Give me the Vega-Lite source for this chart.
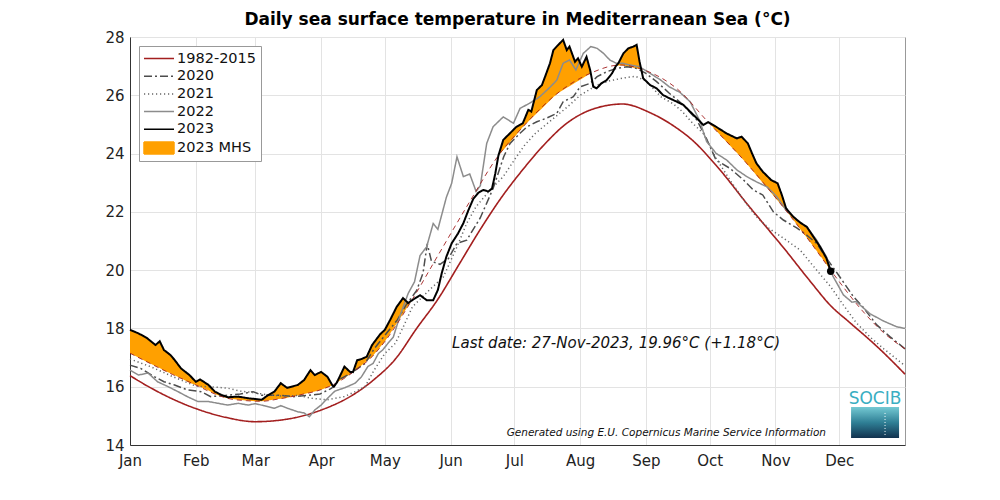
{
"$schema": "https://vega.github.io/schema/vega-lite/v6.json",
"width": 775, "height": 408,
"autosize": {"type": "none"},
"padding": {"left": 130, "top": 37, "right": 95, "bottom": 55},
"background": "white",
"title": {"text": "Daily sea surface temperature in Mediterranean Sea (°C)", "font": "DejaVu Sans", "fontSize": 17, "fontWeight": "bold", "color": "#000", "offset": 1, "anchor": "middle"},
"config": {
  "font": "DejaVu Sans",
  "view": {"stroke": "#999", "strokeWidth": 1},
  "axis": {"labelFont": "DejaVu Sans", "labelFontSize": 15, "labelColor": "#222", "grid": true, "gridColor": "#e3e3e3", "gridWidth": 1, "domainColor": "#333", "ticks": false, "title": null, "labelFlush": false},
  "legend": {"orient": "top-left", "offset": 9, "fillColor": "white", "strokeColor": "#999", "padding": 4, "labelFont": "DejaVu Sans", "labelFontSize": 14.5, "labelColor": "#111", "symbolSize": 225, "symbolStrokeWidth": 1.5, "symbolType": "M-1,0H3", "rowPadding": 2.7, "labelOffset": 17, "labelLimit": 200}
},
"datasets": {
  "clim": [
    {"series":"1982-2015","day":0,"t":16.38},{"series":"1982-2015","day":10,"t":15.95},{"series":"1982-2015","day":20,"t":15.58},{"series":"1982-2015","day":31,"t":15.25},{"series":"1982-2015","day":45,"t":14.95},{"series":"1982-2015","day":59,"t":14.8},{"series":"1982-2015","day":75,"t":14.9},{"series":"1982-2015","day":90,"t":15.2},{"series":"1982-2015","day":105,"t":15.72},{"series":"1982-2015","day":115,"t":16.25},{"series":"1982-2015","day":125,"t":16.95},{"series":"1982-2015","day":135,"t":18.0},{"series":"1982-2015","day":145,"t":19.0},{"series":"1982-2015","day":155,"t":20.2},{"series":"1982-2015","day":165,"t":21.4},{"series":"1982-2015","day":175,"t":22.5},{"series":"1982-2015","day":185,"t":23.45},{"series":"1982-2015","day":195,"t":24.3},{"series":"1982-2015","day":205,"t":25.0},{"series":"1982-2015","day":217,"t":25.5},{"series":"1982-2015","day":232,"t":25.7},{"series":"1982-2015","day":245,"t":25.4},{"series":"1982-2015","day":257,"t":24.9},{"series":"1982-2015","day":265,"t":24.45},{"series":"1982-2015","day":276,"t":23.6},{"series":"1982-2015","day":292,"t":22.15},{"series":"1982-2015","day":300,"t":21.45},{"series":"1982-2015","day":308,"t":20.75},{"series":"1982-2015","day":320,"t":19.65},{"series":"1982-2015","day":330,"t":18.78},{"series":"1982-2015","day":339,"t":18.2},{"series":"1982-2015","day":350,"t":17.5},{"series":"1982-2015","day":355,"t":17.16},{"series":"1982-2015","day":360,"t":16.8},{"series":"1982-2015","day":365,"t":16.43}
  ],
  "thr": [
    {"day":0,"t":17.15},{"day":10,"t":16.78},{"day":20,"t":16.42},{"day":31,"t":16.06},{"day":40,"t":15.75},{"day":46,"t":15.6},{"day":55,"t":15.52},{"day":62,"t":15.5},{"day":70,"t":15.58},{"day":80,"t":15.72},{"day":90,"t":15.9},{"day":96,"t":16.08},{"day":106,"t":16.55},{"day":114,"t":17.03},{"day":120,"t":17.55},{"day":133,"t":19.0},{"day":145,"t":20.5},{"day":160,"t":22.35},{"day":173,"t":23.88},{"day":185,"t":24.91},{"day":201,"t":26.05},{"day":217,"t":26.76},{"day":231,"t":27.04},{"day":242,"t":26.87},{"day":258,"t":26.2},{"day":272,"t":25.1},{"day":290,"t":23.7},{"day":308,"t":22.13},{"day":320,"t":21.0},{"day":331,"t":19.9},{"day":345,"t":18.6},{"day":355,"t":17.85},{"day":365,"t":17.3}
  ],
  "years": [
    {"series":"2020","day":0,"t":16.74},{"series":"2020","day":5,"t":16.63},{"series":"2020","day":11.6,"t":16.34},{"series":"2020","day":16,"t":16.17},{"series":"2020","day":21,"t":16.06},{"series":"2020","day":27,"t":15.89},{"series":"2020","day":33.6,"t":15.83},{"series":"2020","day":38,"t":15.66},{"series":"2020","day":45,"t":15.7},{"series":"2020","day":52,"t":15.75},{"series":"2020","day":58,"t":15.83},{"series":"2020","day":62,"t":15.71},{"series":"2020","day":70,"t":15.71},{"series":"2020","day":77,"t":15.66},{"series":"2020","day":83,"t":15.7},{"series":"2020","day":89.5,"t":15.75},{"series":"2020","day":95,"t":15.95},{"series":"2020","day":98,"t":16.23},{"series":"2020","day":104,"t":16.46},{"series":"2020","day":110.7,"t":16.8},{"series":"2020","day":115,"t":17.3},{"series":"2020","day":121,"t":17.85},{"series":"2020","day":126,"t":18.3},{"series":"2020","day":130,"t":18.8},{"series":"2020","day":135,"t":19.3},{"series":"2020","day":138,"t":19.9},{"series":"2020","day":140,"t":20.9},{"series":"2020","day":142,"t":20.3},{"series":"2020","day":146,"t":20.2},{"series":"2020","day":150,"t":20.4},{"series":"2020","day":154,"t":20.92},{"series":"2020","day":158.6,"t":21.03},{"series":"2020","day":165,"t":21.8},{"series":"2020","day":171,"t":22.8},{"series":"2020","day":176,"t":23.89},{"series":"2020","day":179,"t":24.35},{"series":"2020","day":183.7,"t":24.7},{"series":"2020","day":187,"t":24.92},{"series":"2020","day":191.6,"t":25.09},{"series":"2020","day":196,"t":25.21},{"series":"2020","day":201,"t":25.38},{"series":"2020","day":204,"t":25.78},{"series":"2020","day":208.8,"t":25.95},{"series":"2020","day":212,"t":26.29},{"series":"2020","day":216.7,"t":26.41},{"series":"2020","day":220,"t":26.64},{"series":"2020","day":224.6,"t":26.81},{"series":"2020","day":229,"t":26.92},{"series":"2020","day":234,"t":26.98},{"series":"2020","day":238.7,"t":26.92},{"series":"2020","day":243,"t":26.75},{"series":"2020","day":248,"t":26.47},{"series":"2020","day":254,"t":26.07},{"series":"2020","day":260.6,"t":25.67},{"series":"2020","day":267,"t":25.15},{"series":"2020","day":271.6,"t":24.5},{"series":"2020","day":276,"t":23.78},{"series":"2020","day":282.6,"t":23.49},{"series":"2020","day":289,"t":23.09},{"series":"2020","day":293.6,"t":22.75},{"series":"2020","day":298,"t":22.58},{"series":"2020","day":303,"t":22.0},{"series":"2020","day":307.7,"t":21.72},{"series":"2020","day":314,"t":21.45},{"series":"2020","day":318.7,"t":21.2},{"series":"2020","day":323.4,"t":20.92},{"series":"2020","day":328,"t":20.41},{"series":"2020","day":334,"t":19.8},{"series":"2020","day":340.7,"t":19.09},{"series":"2020","day":345,"t":18.75},{"series":"2020","day":351.7,"t":18.12},{"series":"2020","day":358,"t":17.71},{"series":"2020","day":365,"t":17.3},
    {"series":"2021","day":0,"t":16.95},{"series":"2021","day":10,"t":16.68},{"series":"2021","day":20,"t":16.35},{"series":"2021","day":31,"t":16.02},{"series":"2021","day":41,"t":15.98},{"series":"2021","day":46,"t":15.95},{"series":"2021","day":52,"t":15.85},{"series":"2021","day":58,"t":15.8},{"series":"2021","day":65,"t":15.72},{"series":"2021","day":72,"t":15.68},{"series":"2021","day":79,"t":15.7},{"series":"2021","day":86,"t":15.6},{"series":"2021","day":93,"t":15.55},{"series":"2021","day":101,"t":15.66},{"series":"2021","day":106,"t":15.83},{"series":"2021","day":110.7,"t":16.0},{"series":"2021","day":115,"t":16.57},{"series":"2021","day":120,"t":17.14},{"series":"2021","day":125,"t":17.49},{"series":"2021","day":129,"t":18.1},{"series":"2021","day":133,"t":18.74},{"series":"2021","day":141,"t":19.32},{"series":"2021","day":147.6,"t":19.77},{"series":"2021","day":154,"t":20.8},{"series":"2021","day":158.6,"t":21.61},{"series":"2021","day":163,"t":22.18},{"series":"2021","day":169.6,"t":22.75},{"series":"2021","day":175.8,"t":23.21},{"series":"2021","day":182,"t":23.89},{"series":"2021","day":186,"t":24.3},{"series":"2021","day":191,"t":24.7},{"series":"2021","day":196,"t":25.0},{"series":"2021","day":201,"t":25.3},{"series":"2021","day":206,"t":25.6},{"series":"2021","day":212,"t":26.0},{"series":"2021","day":220,"t":26.35},{"series":"2021","day":226,"t":26.5},{"series":"2021","day":233,"t":26.6},{"series":"2021","day":238,"t":26.65},{"series":"2021","day":243,"t":26.5},{"series":"2021","day":250,"t":25.95},{"series":"2021","day":256,"t":25.7},{"series":"2021","day":260,"t":25.45},{"series":"2021","day":265,"t":25.04},{"series":"2021","day":270,"t":24.69},{"series":"2021","day":276,"t":23.84},{"series":"2021","day":282.6,"t":23.09},{"series":"2021","day":289,"t":22.41},{"series":"2021","day":295,"t":21.83},{"series":"2021","day":301,"t":21.43},{"series":"2021","day":307.7,"t":21.1},{"series":"2021","day":315.6,"t":20.69},{"series":"2021","day":323.4,"t":20.0},{"series":"2021","day":330,"t":19.43},{"series":"2021","day":336,"t":18.8},{"series":"2021","day":342,"t":18.2},{"series":"2021","day":348.6,"t":17.7},{"series":"2021","day":355,"t":17.3},{"series":"2021","day":361,"t":16.95},{"series":"2021","day":365,"t":16.72},
    {"series":"2022","day":0,"t":16.57},{"series":"2022","day":4,"t":16.4},{"series":"2022","day":8.5,"t":16.47},{"series":"2022","day":13,"t":16.17},{"series":"2022","day":18,"t":16.0},{"series":"2022","day":22.6,"t":15.83},{"series":"2022","day":27,"t":15.66},{"series":"2022","day":32,"t":15.49},{"series":"2022","day":37,"t":15.49},{"series":"2022","day":41.5,"t":15.43},{"series":"2022","day":46,"t":15.37},{"series":"2022","day":51,"t":15.43},{"series":"2022","day":55.6,"t":15.37},{"series":"2022","day":59,"t":15.42},{"series":"2022","day":63,"t":15.35},{"series":"2022","day":68,"t":15.26},{"series":"2022","day":71,"t":15.35},{"series":"2022","day":74.6,"t":15.25},{"series":"2022","day":79,"t":15.14},{"series":"2022","day":82,"t":15.1},{"series":"2022","day":84.5,"t":14.97},{"series":"2022","day":87,"t":15.2},{"series":"2022","day":90,"t":15.37},{"series":"2022","day":93,"t":15.6},{"series":"2022","day":96.5,"t":15.85},{"series":"2022","day":101,"t":15.96},{"series":"2022","day":106,"t":16.12},{"series":"2022","day":109,"t":16.34},{"series":"2022","day":112,"t":16.69},{"series":"2022","day":114.5,"t":16.8},{"series":"2022","day":117,"t":17.14},{"series":"2022","day":119,"t":17.26},{"series":"2022","day":121.5,"t":17.49},{"series":"2022","day":124,"t":17.7},{"series":"2022","day":127,"t":18.4},{"series":"2022","day":131,"t":19.2},{"series":"2022","day":134,"t":19.6},{"series":"2022","day":136.6,"t":20.5},{"series":"2022","day":139.7,"t":20.8},{"series":"2022","day":142.8,"t":21.6},{"series":"2022","day":145,"t":21.4},{"series":"2022","day":149,"t":22.5},{"series":"2022","day":151.5,"t":22.98},{"series":"2022","day":154,"t":23.89},{"series":"2022","day":157,"t":23.21},{"series":"2022","day":160,"t":23.3},{"series":"2022","day":163,"t":22.7},{"series":"2022","day":165,"t":22.9},{"series":"2022","day":168,"t":24.35},{"series":"2022","day":171,"t":24.92},{"series":"2022","day":175.8,"t":25.26},{"series":"2022","day":180.6,"t":25.04},{"series":"2022","day":183.7,"t":25.55},{"series":"2022","day":188,"t":25.72},{"series":"2022","day":193,"t":25.95},{"series":"2022","day":198,"t":26.29},{"series":"2022","day":201,"t":26.52},{"series":"2022","day":204,"t":27.1},{"series":"2022","day":207,"t":27.21},{"series":"2022","day":210,"t":26.87},{"series":"2022","day":213.5,"t":27.44},{"series":"2022","day":217,"t":27.67},{"series":"2022","day":220,"t":27.61},{"series":"2022","day":223,"t":27.44},{"series":"2022","day":226,"t":27.21},{"series":"2022","day":229,"t":27.1},{"series":"2022","day":232,"t":27.1},{"series":"2022","day":235.5,"t":27.04},{"series":"2022","day":240,"t":26.98},{"series":"2022","day":245,"t":26.75},{"series":"2022","day":250,"t":26.52},{"series":"2022","day":254,"t":26.29},{"series":"2022","day":259,"t":26.1},{"series":"2022","day":263.8,"t":25.78},{"series":"2022","day":268.5,"t":25.1},{"series":"2022","day":270,"t":24.75},{"series":"2022","day":271.6,"t":24.41},{"series":"2022","day":276,"t":24.01},{"series":"2022","day":281,"t":23.78},{"series":"2022","day":285.8,"t":23.44},{"series":"2022","day":290.5,"t":23.21},{"series":"2022","day":295,"t":23.03},{"series":"2022","day":300,"t":22.86},{"series":"2022","day":304.6,"t":22.52},{"series":"2022","day":309,"t":22.06},{"series":"2022","day":314,"t":21.72},{"series":"2022","day":318.7,"t":21.49},{"series":"2022","day":323.4,"t":21.03},{"series":"2022","day":328,"t":20.46},{"series":"2022","day":331,"t":19.8},{"series":"2022","day":336,"t":19.15},{"series":"2022","day":340,"t":18.9},{"series":"2022","day":342,"t":18.92},{"series":"2022","day":348.6,"t":18.5},{"series":"2022","day":355,"t":18.25},{"series":"2022","day":361,"t":18.06},{"series":"2022","day":365,"t":18.0}
  ],
  "y2023": [
    {"series":"2023","day":0,"t":17.95},{"series":"2023","day":4,"t":17.83},{"series":"2023","day":8,"t":17.67},{"series":"2023","day":12,"t":17.43},{"series":"2023","day":14,"t":17.56},{"series":"2023","day":16,"t":17.26},{"series":"2023","day":19,"t":17.09},{"series":"2023","day":21,"t":16.92},{"series":"2023","day":24,"t":16.63},{"series":"2023","day":28,"t":16.4},{"series":"2023","day":31,"t":16.17},{"series":"2023","day":33,"t":16.25},{"series":"2023","day":37,"t":16.06},{"series":"2023","day":40,"t":15.83},{"series":"2023","day":43,"t":15.72},{"series":"2023","day":46,"t":15.64},{"series":"2023","day":51,"t":15.66},{"series":"2023","day":56,"t":15.6},{"series":"2023","day":59,"t":15.58},{"series":"2023","day":62,"t":15.55},{"series":"2023","day":65,"t":15.71},{"series":"2023","day":68,"t":15.83},{"series":"2023","day":71,"t":16.12},{"series":"2023","day":74,"t":15.96},{"series":"2023","day":79,"t":16.06},{"series":"2023","day":82,"t":16.23},{"series":"2023","day":85,"t":16.57},{"series":"2023","day":87,"t":16.4},{"series":"2023","day":90,"t":16.51},{"series":"2023","day":93,"t":16.34},{"series":"2023","day":95.3,"t":16.05},{"series":"2023","day":96,"t":16.0},{"series":"2023","day":97.5,"t":16.15},{"series":"2023","day":98,"t":16.23},{"series":"2023","day":101,"t":16.69},{"series":"2023","day":103.6,"t":16.51},{"series":"2023","day":105,"t":16.5},{"series":"2023","day":107,"t":16.91},{"series":"2023","day":109,"t":16.95},{"series":"2023","day":111.5,"t":17.03},{"series":"2023","day":114,"t":17.43},{"series":"2023","day":117.8,"t":17.8},{"series":"2023","day":120,"t":17.95},{"series":"2023","day":122.5,"t":18.29},{"series":"2023","day":125.6,"t":18.74},{"series":"2023","day":128.6,"t":19.04},{"series":"2023","day":131,"t":18.87},{"series":"2023","day":132.5,"t":18.95},{"series":"2023","day":136.6,"t":19.14},{"series":"2023","day":139.7,"t":18.97},{"series":"2023","day":142.8,"t":18.97},{"series":"2023","day":145,"t":19.32},{"series":"2023","day":146.8,"t":19.89},{"series":"2023","day":149,"t":20.46},{"series":"2023","day":151.5,"t":20.92},{"series":"2023","day":154.5,"t":21.26},{"series":"2023","day":157,"t":21.61},{"series":"2023","day":159.4,"t":22.06},{"series":"2023","day":161.7,"t":22.45},{"series":"2023","day":164,"t":22.65},{"series":"2023","day":166.4,"t":22.75},{"series":"2023","day":168.8,"t":22.7},{"series":"2023","day":170.5,"t":22.8},{"series":"2023","day":172,"t":23.3},{"series":"2023","day":173.5,"t":23.93},{"series":"2023","day":175.8,"t":24.47},{"series":"2023","day":179,"t":24.7},{"series":"2023","day":182,"t":24.92},{"series":"2023","day":185,"t":25.04},{"series":"2023","day":187.6,"t":25.5},{"series":"2023","day":189,"t":25.44},{"series":"2023","day":191.6,"t":26.18},{"series":"2023","day":194,"t":26.35},{"series":"2023","day":195.5,"t":26.64},{"series":"2023","day":197.8,"t":27.1},{"series":"2023","day":199.4,"t":27.55},{"series":"2023","day":201.7,"t":27.73},{"series":"2023","day":204,"t":27.9},{"series":"2023","day":205.7,"t":27.55},{"series":"2023","day":207,"t":27.67},{"series":"2023","day":209.6,"t":27.15},{"series":"2023","day":211,"t":27.27},{"series":"2023","day":212.8,"t":26.98},{"series":"2023","day":215,"t":27.32},{"series":"2023","day":216.7,"t":26.87},{"series":"2023","day":217,"t":26.76},{"series":"2023","day":218.2,"t":26.29},{"series":"2023","day":219.8,"t":26.24},{"series":"2023","day":222,"t":26.41},{"series":"2023","day":224.5,"t":26.52},{"series":"2023","day":227,"t":26.75},{"series":"2023","day":228.8,"t":27.0},{"series":"2023","day":230,"t":27.1},{"series":"2023","day":232.4,"t":27.44},{"series":"2023","day":234.7,"t":27.61},{"series":"2023","day":237,"t":27.67},{"series":"2023","day":238.6,"t":27.73},{"series":"2023","day":240,"t":27.15},{"series":"2023","day":240.8,"t":26.88},{"series":"2023","day":241.7,"t":26.58},{"series":"2023","day":245,"t":26.35},{"series":"2023","day":248,"t":26.24},{"series":"2023","day":251,"t":26.01},{"series":"2023","day":254,"t":25.9},{"series":"2023","day":257.5,"t":25.78},{"series":"2023","day":260.6,"t":25.67},{"series":"2023","day":263.8,"t":25.44},{"series":"2023","day":267,"t":25.21},{"series":"2023","day":270,"t":24.98},{"series":"2023","day":272.3,"t":25.08},{"series":"2023","day":276,"t":24.92},{"series":"2023","day":281,"t":24.69},{"series":"2023","day":285.8,"t":24.52},{"series":"2023","day":288,"t":24.58},{"series":"2023","day":291,"t":24.35},{"series":"2023","day":293,"t":24.0},{"series":"2023","day":295,"t":23.67},{"series":"2023","day":298,"t":23.38},{"series":"2023","day":302,"t":23.09},{"series":"2023","day":305,"t":22.98},{"series":"2023","day":307,"t":22.58},{"series":"2023","day":309,"t":22.12},{"series":"2023","day":312.4,"t":21.83},{"series":"2023","day":316,"t":21.61},{"series":"2023","day":318.7,"t":21.49},{"series":"2023","day":321.8,"t":21.15},{"series":"2023","day":325,"t":20.8},{"series":"2023","day":328,"t":20.41},{"series":"2023","day":330,"t":19.96}
  ],
  "mhs": [
    {"series":"2023 MHS","ev":1,"day":0,"hi":17.95,"lo":17.15},{"series":"2023 MHS","ev":1,"day":4,"hi":17.83,"lo":17.0},{"series":"2023 MHS","ev":1,"day":8,"hi":17.67,"lo":16.85},{"series":"2023 MHS","ev":1,"day":12,"hi":17.43,"lo":16.71},{"series":"2023 MHS","ev":1,"day":14,"hi":17.56,"lo":16.64},{"series":"2023 MHS","ev":1,"day":16,"hi":17.26,"lo":16.56},{"series":"2023 MHS","ev":1,"day":19,"hi":17.09,"lo":16.46},{"series":"2023 MHS","ev":1,"day":21,"hi":16.92,"lo":16.39},{"series":"2023 MHS","ev":1,"day":24,"hi":16.63,"lo":16.29},{"series":"2023 MHS","ev":1,"day":28,"hi":16.4,"lo":16.14},{"series":"2023 MHS","ev":1,"day":31,"hi":16.17,"lo":16.06},{"series":"2023 MHS","ev":1,"day":33,"hi":16.25,"lo":16.0},{"series":"2023 MHS","ev":1,"day":37,"hi":16.06,"lo":15.87},{"series":"2023 MHS","ev":1,"day":40,"hi":15.83,"lo":15.75},{"series":"2023 MHS","ev":1,"day":43,"hi":15.72,"lo":15.66},{"series":"2023 MHS","ev":1,"day":46,"hi":15.64,"lo":15.6},{"series":"2023 MHS","ev":1,"day":51,"hi":15.66,"lo":15.55},{"series":"2023 MHS","ev":1,"day":56,"hi":15.6,"lo":15.52},{"series":"2023 MHS","ev":1,"day":59,"hi":15.58,"lo":15.5},{"series":"2023 MHS","ev":1,"day":62,"hi":15.55,"lo":15.5},{"series":"2023 MHS","ev":1,"day":65,"hi":15.71,"lo":15.53},{"series":"2023 MHS","ev":1,"day":68,"hi":15.83,"lo":15.56},{"series":"2023 MHS","ev":1,"day":71,"hi":16.12,"lo":15.59},{"series":"2023 MHS","ev":1,"day":74,"hi":15.96,"lo":15.62},{"series":"2023 MHS","ev":1,"day":79,"hi":16.06,"lo":15.7},{"series":"2023 MHS","ev":1,"day":82,"hi":16.23,"lo":15.75},{"series":"2023 MHS","ev":1,"day":85,"hi":16.57,"lo":15.8},{"series":"2023 MHS","ev":1,"day":87,"hi":16.4,"lo":15.84},{"series":"2023 MHS","ev":1,"day":90,"hi":16.51,"lo":15.9},{"series":"2023 MHS","ev":1,"day":93,"hi":16.34,"lo":15.98},{"series":"2023 MHS","ev":1,"day":95.3,"hi":16.05,"lo":16.05},
    {"series":"2023 MHS","ev":2,"day":97.5,"hi":16.15,"lo":16.15},{"series":"2023 MHS","ev":2,"day":98,"hi":16.23,"lo":16.17},{"series":"2023 MHS","ev":2,"day":101,"hi":16.69,"lo":16.31},{"series":"2023 MHS","ev":2,"day":103.6,"hi":16.51,"lo":16.43},{"series":"2023 MHS","ev":2,"day":105,"hi":16.5,"lo":16.5},{"series":"2023 MHS","ev":2,"day":107,"hi":16.91,"lo":16.61},{"series":"2023 MHS","ev":2,"day":109,"hi":16.95,"lo":16.73},{"series":"2023 MHS","ev":2,"day":111.5,"hi":17.03,"lo":16.88},{"series":"2023 MHS","ev":2,"day":114,"hi":17.43,"lo":17.03},{"series":"2023 MHS","ev":2,"day":117.8,"hi":17.8,"lo":17.36},{"series":"2023 MHS","ev":2,"day":120,"hi":17.95,"lo":17.55},{"series":"2023 MHS","ev":2,"day":122.5,"hi":18.29,"lo":17.83},{"series":"2023 MHS","ev":2,"day":125.6,"hi":18.74,"lo":18.17},{"series":"2023 MHS","ev":2,"day":128.6,"hi":19.04,"lo":18.5},{"series":"2023 MHS","ev":2,"day":131,"hi":18.87,"lo":18.78},{"series":"2023 MHS","ev":2,"day":132.5,"hi":18.95,"lo":18.95},
    {"series":"2023 MHS","ev":3,"day":173.5,"hi":23.93,"lo":23.93},{"series":"2023 MHS","ev":3,"day":175.8,"hi":24.47,"lo":24.12},{"series":"2023 MHS","ev":3,"day":179,"hi":24.7,"lo":24.39},{"series":"2023 MHS","ev":3,"day":182,"hi":24.92,"lo":24.65},{"series":"2023 MHS","ev":3,"day":185,"hi":25.04,"lo":24.91},{"series":"2023 MHS","ev":3,"day":187.6,"hi":25.5,"lo":25.1},{"series":"2023 MHS","ev":3,"day":189,"hi":25.44,"lo":25.2},{"series":"2023 MHS","ev":3,"day":191.6,"hi":26.18,"lo":25.38},{"series":"2023 MHS","ev":3,"day":194,"hi":26.35,"lo":25.55},{"series":"2023 MHS","ev":3,"day":195.5,"hi":26.64,"lo":25.66},{"series":"2023 MHS","ev":3,"day":197.8,"hi":27.1,"lo":25.82},{"series":"2023 MHS","ev":3,"day":199.4,"hi":27.55,"lo":25.94},{"series":"2023 MHS","ev":3,"day":201.7,"hi":27.73,"lo":26.08},{"series":"2023 MHS","ev":3,"day":204,"hi":27.9,"lo":26.18},{"series":"2023 MHS","ev":3,"day":205.7,"hi":27.55,"lo":26.26},{"series":"2023 MHS","ev":3,"day":207,"hi":27.67,"lo":26.31},{"series":"2023 MHS","ev":3,"day":209.6,"hi":27.15,"lo":26.43},{"series":"2023 MHS","ev":3,"day":211,"hi":27.27,"lo":26.49},{"series":"2023 MHS","ev":3,"day":212.8,"hi":26.98,"lo":26.57},{"series":"2023 MHS","ev":3,"day":215,"hi":27.32,"lo":26.67},{"series":"2023 MHS","ev":3,"day":216.7,"hi":26.87,"lo":26.75},{"series":"2023 MHS","ev":3,"day":217,"hi":26.76,"lo":26.76},
    {"series":"2023 MHS","ev":4,"day":228.8,"hi":27.0,"lo":27.0},{"series":"2023 MHS","ev":4,"day":230,"hi":27.1,"lo":27.02},{"series":"2023 MHS","ev":4,"day":232.4,"hi":27.44,"lo":27.02},{"series":"2023 MHS","ev":4,"day":234.7,"hi":27.61,"lo":26.98},{"series":"2023 MHS","ev":4,"day":237,"hi":27.67,"lo":26.95},{"series":"2023 MHS","ev":4,"day":238.6,"hi":27.73,"lo":26.92},{"series":"2023 MHS","ev":4,"day":240,"hi":27.15,"lo":26.9},{"series":"2023 MHS","ev":4,"day":240.8,"hi":26.88,"lo":26.88},
    {"series":"2023 MHS","ev":5,"day":272.3,"hi":25.08,"lo":25.08},{"series":"2023 MHS","ev":5,"day":276,"hi":24.92,"lo":24.79},{"series":"2023 MHS","ev":5,"day":281,"hi":24.69,"lo":24.4},{"series":"2023 MHS","ev":5,"day":285.8,"hi":24.52,"lo":24.03},{"series":"2023 MHS","ev":5,"day":288,"hi":24.58,"lo":23.86},{"series":"2023 MHS","ev":5,"day":291,"hi":24.35,"lo":23.61},{"series":"2023 MHS","ev":5,"day":293,"hi":24.0,"lo":23.44},{"series":"2023 MHS","ev":5,"day":295,"hi":23.67,"lo":23.26},{"series":"2023 MHS","ev":5,"day":298,"hi":23.38,"lo":23.0},{"series":"2023 MHS","ev":5,"day":302,"hi":23.09,"lo":22.65},{"series":"2023 MHS","ev":5,"day":305,"hi":22.98,"lo":22.39},{"series":"2023 MHS","ev":5,"day":307,"hi":22.58,"lo":22.22},{"series":"2023 MHS","ev":5,"day":309,"hi":22.12,"lo":22.04},{"series":"2023 MHS","ev":5,"day":312.4,"hi":21.83,"lo":21.73},{"series":"2023 MHS","ev":5,"day":316,"hi":21.61,"lo":21.38},{"series":"2023 MHS","ev":5,"day":318.7,"hi":21.49,"lo":21.12},{"series":"2023 MHS","ev":5,"day":321.8,"hi":21.15,"lo":20.82},{"series":"2023 MHS","ev":5,"day":325,"hi":20.8,"lo":20.5},{"series":"2023 MHS","ev":5,"day":328,"hi":20.41,"lo":20.2},{"series":"2023 MHS","ev":5,"day":330,"hi":19.96,"lo":19.96}
  ],
  "last": [{"day":330,"t":19.96}]
},
"layer": [
  {
    "data": {"name": "mhs"},
    "mark": {"type": "area", "opacity": 1},
    "encoding": {
      "x": {"field": "day", "type": "quantitative", "scale": {"domain": [0, 365], "nice": false, "zero": false},
            "axis": {"values": [0,31,59,90,120,151,181,212,243,273,304,334], "labelExpr": "timeFormat(datetime(2023,0,1+datum.value),'%b')", "labelPadding": 8}},
      "y": {"field": "hi", "type": "quantitative", "scale": {"domain": [14, 28], "nice": false, "zero": false},
            "axis": {"values": [14,16,18,20,22,24,26,28], "labelPadding": 6}},
      "y2": {"field": "lo"},
      "detail": {"field": "ev"},
      "color": {"field": "series", "type": "nominal",
        "scale": {"domain": ["1982-2015","2020","2021","2022","2023","2023 MHS"], "range": ["#a31f1f","#4d4d4d","#666666","#8c8c8c","#000000","#ffa000"]},
        "legend": {"title": null, "symbolType": "M-1,0H3",
          "encode": {"symbols": {"update": {
            "shape": {"signal": "datum.value === '2023 MHS' ? 'M-1,-0.8H3V0.8H-1Z' : 'M-1,0H3'"},
            "fill": {"signal": "datum.value === '2023 MHS' ? '#ffa000' : 'transparent'"},
            "stroke": {"signal": "datum.value === '2023 MHS' ? '#8a5a00' : scale('color', datum.value)"}
          }}}}}
    }
  },
  {
    "data": {"name": "clim"},
    "mark": {"type": "line", "strokeWidth": 1.6, "interpolate": "monotone"},
    "encoding": {
      "x": {"field": "day", "type": "quantitative"},
      "y": {"field": "t", "type": "quantitative"},
      "color": {"field": "series", "type": "nominal", "legend": {"title": null, "symbolType": "M-1,0H3",
          "encode": {"symbols": {"update": {
            "shape": {"signal": "datum.value === '2023 MHS' ? 'M-1,-0.8H3V0.8H-1Z' : 'M-1,0H3'"},
            "fill": {"signal": "datum.value === '2023 MHS' ? '#ffa000' : 'transparent'"},
            "stroke": {"signal": "datum.value === '2023 MHS' ? '#8a5a00' : scale('color', datum.value)"}
          }}}}},
      "strokeDash": {"field": "series", "type": "nominal", "scale": {"domain": ["1982-2015","2020","2021","2022","2023","2023 MHS"], "range": [[1,0],[8,3,2,3],[1.2,2.8],[1,0],[1,0],[1,0]]}, "legend": {"title": null, "symbolType": "M-1,0H3",
          "encode": {"symbols": {"update": {
            "shape": {"signal": "datum.value === '2023 MHS' ? 'M-1,-0.8H3V0.8H-1Z' : 'M-1,0H3'"},
            "fill": {"signal": "datum.value === '2023 MHS' ? '#ffa000' : 'transparent'"},
            "stroke": {"signal": "datum.value === '2023 MHS' ? '#8a5a00' : scale('color', datum.value)"}
          }}}}}
    }
  },
  {
    "data": {"name": "years"},
    "mark": {"type": "line", "strokeWidth": 1.5},
    "encoding": {
      "x": {"field": "day", "type": "quantitative"},
      "y": {"field": "t", "type": "quantitative"},
      "color": {"field": "series", "type": "nominal"},
      "strokeDash": {"field": "series", "type": "nominal"}
    }
  },
  {
    "data": {"name": "thr"},
    "mark": {"type": "line", "strokeWidth": 0.9, "color": "#a31f1f", "strokeDash": [5, 4], "interpolate": "monotone"},
    "encoding": {
      "x": {"field": "day", "type": "quantitative"},
      "y": {"field": "t", "type": "quantitative"}
    }
  },
  {
    "data": {"name": "y2023"},
    "mark": {"type": "line", "strokeWidth": 2},
    "encoding": {
      "x": {"field": "day", "type": "quantitative"},
      "y": {"field": "t", "type": "quantitative"},
      "color": {"field": "series", "type": "nominal"},
      "strokeDash": {"field": "series", "type": "nominal"}
    }
  },
  {
    "data": {"name": "last"},
    "mark": {"type": "point", "filled": true, "color": "#000", "size": 55, "opacity": 1},
    "encoding": {
      "x": {"field": "day", "type": "quantitative"},
      "y": {"field": "t", "type": "quantitative"}
    }
  },
  {
    "data": {"values": [{}]},
    "mark": {"type": "text", "align": "left", "baseline": "middle", "font": "DejaVu Sans", "fontSize": 15, "fontStyle": "italic", "color": "#111"},
    "encoding": {
      "x": {"datum": 151.7, "type": "quantitative"},
      "y": {"datum": 17.5, "type": "quantitative"},
      "text": {"value": "Last date: 27-Nov-2023, 19.96°C (+1.18°C)"}
    }
  },
  {
    "data": {"values": [{}]},
    "mark": {"type": "text", "align": "right", "baseline": "middle", "font": "DejaVu Sans", "fontSize": 10.5, "fontStyle": "italic", "color": "#111"},
    "encoding": {
      "x": {"datum": 327.8, "type": "quantitative"},
      "y": {"datum": 14.41, "type": "quantitative"},
      "text": {"value": "Generated using E.U. Copernicus Marine Service Information"}
    }
  },
  {
    "data": {"values": [{}]},
    "mark": {"type": "rect", "color": {"gradient": "linear", "x1": 0, "y1": 0, "x2": 0, "y2": 1, "stops": [{"offset": 0, "color": "#74c9d3"}, {"offset": 0.5, "color": "#2f7f95"}, {"offset": 1, "color": "#12324f"}]}},
    "encoding": {
      "x": {"datum": 339.6, "type": "quantitative"},
      "x2": {"datum": 362.2},
      "y": {"datum": 15.3, "type": "quantitative"},
      "y2": {"datum": 14.24}
    }
  },
  {
    "data": {"values": [{}]},
    "mark": {"type": "rule", "color": "white", "strokeDash": [1, 2], "strokeWidth": 1},
    "encoding": {
      "x": {"datum": 355.6, "type": "quantitative"},
      "y": {"datum": 15.1, "type": "quantitative"},
      "y2": {"datum": 14.3}
    }
  },
  {
    "data": {"values": [{}]},
    "mark": {"type": "text", "align": "center", "baseline": "bottom", "font": "DejaVu Sans", "fontSize": 17, "color": "#3aaec2"},
    "encoding": {
      "x": {"datum": 350.9, "type": "quantitative"},
      "y": {"datum": 15.28, "type": "quantitative"},
      "text": {"value": "SOCIB"}
    }
  }
]
}
